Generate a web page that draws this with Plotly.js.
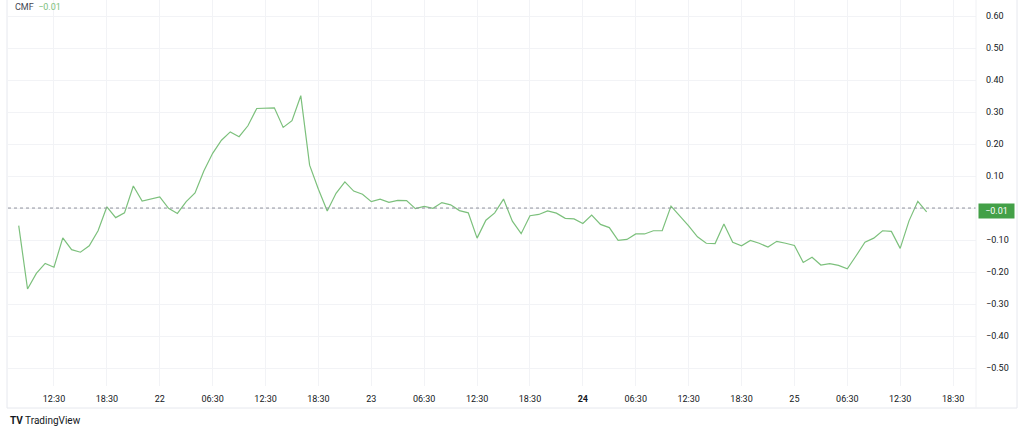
<!DOCTYPE html>
<html>
<head>
<meta charset="utf-8">
<script src="https://cdn.plot.ly/plotly-3.0.1.min.js"></script>
<style>
  html, body { margin: 0; padding: 0; background: #ffffff; }
  #chart { width: 1024px; height: 433px; }
</style>
</head>
<body>
<div id="chart"></div>
<script>
// ---- Data ----
const seriesName = "CMF";
const lastValueText = "\u22120.01";
const lastValue = -0.01;
// hourly bars, first bar at 21 08:30 (local), last at 25 15:30
const startDay = 21;
const startHour = 8;
const startMinute = 30;
const cmfValues = [
  -0.055, -0.253, -0.204, -0.173, -0.185, -0.093, -0.130, -0.138, -0.118, -0.071,
   0.004, -0.030, -0.015,  0.069,  0.022,  0.029,  0.035, -0.001, -0.017,  0.020,
   0.047,  0.116,  0.171,  0.212,  0.238,  0.223,  0.257,  0.311,  0.312,  0.313,
   0.252,  0.273,  0.351,  0.134,  0.059, -0.009,  0.046,  0.082,  0.053,  0.043,
   0.020,  0.028,  0.018,  0.024,  0.023, -0.002,  0.005, -0.001,  0.017,  0.010,
  -0.008, -0.015, -0.094, -0.038, -0.015,  0.028, -0.041, -0.080, -0.024, -0.020,
  -0.009, -0.016, -0.032, -0.034, -0.048, -0.022, -0.051, -0.061, -0.101, -0.098,
  -0.081, -0.081, -0.071, -0.071,  0.006, -0.024, -0.056, -0.090, -0.110, -0.111,
  -0.050, -0.107, -0.118, -0.101, -0.110, -0.122, -0.104, -0.110, -0.117, -0.170,
  -0.154, -0.178, -0.174, -0.179, -0.190, -0.149, -0.107, -0.094, -0.071, -0.073,
  -0.126, -0.040,  0.021, -0.012
];
const tickTimes = [
  "2024-03-21 12:30", "2024-03-21 18:30", "2024-03-22 00:30", "2024-03-22 06:30",
  "2024-03-22 12:30", "2024-03-22 18:30", "2024-03-23 00:30", "2024-03-23 06:30",
  "2024-03-23 12:30", "2024-03-23 18:30", "2024-03-24 00:30", "2024-03-24 06:30",
  "2024-03-24 12:30", "2024-03-24 18:30", "2024-03-25 00:30", "2024-03-25 06:30",
  "2024-03-25 12:30", "2024-03-25 18:30"
];
const tickLabels = [
  "12:30", "18:30", "22", "06:30", "12:30", "18:30", "23", "06:30", "12:30",
  "18:30", "<b>24</b>", "06:30", "12:30", "18:30", "25", "06:30", "12:30", "18:30"
];
const yTickStart = -0.5;

// ---- Build timestamps for the hourly bars ----
function pad(n) { return (n < 10 ? "0" : "") + n; }
const barTimes = cmfValues.map((v, i) => {
  const totalMin = startHour * 60 + startMinute + i * 60;
  const day = startDay + Math.floor(totalMin / 1440);
  const rem = totalMin % 1440;
  return "2024-03-" + pad(day) + " " + pad(Math.floor(rem / 60)) + ":" + pad(rem % 60);
});

// ---- Layout geometry ----
const W = 1024, H = 433;
const mL = 8, mR = 48, mT = 0, mB = 47;
const plotW = W - mL - mR, plotH = H - mT - mB;
const px = x => (x - mL) / plotW;
const py = y => (H - mB - y) / plotH;

const fontFam = "Roboto, 'Liberation Sans', Arial, sans-serif";
const textColor = "#131722";
const legendColor = "#434651";
const lineColor = "#7cc07c";
const labelGreen = "#43a047";
const gridColor = "#f2f3f6";
const borderColor = "#e6e8ee";

const trace = {
  x: barTimes,
  y: cmfValues,
  type: "scatter",
  mode: "lines",
  line: { color: lineColor, width: 1.2 },
  hoverinfo: "skip",
  showlegend: false
};

const layout = {
  width: W,
  height: H,
  margin: { l: mL, r: mR, t: mT, b: mB, pad: 0 },
  paper_bgcolor: "#ffffff",
  plot_bgcolor: "#ffffff",
  font: { family: fontFam, size: 9, color: textColor },
  showlegend: false,
  xaxis: {
    type: "date",
    range: ["2024-03-21 07:17", "2024-03-25 21:06"],
    tickmode: "array",
    tickvals: tickTimes,
    ticktext: tickLabels,
    showgrid: true,
    gridcolor: gridColor,
    gridwidth: 1,
    zeroline: false,
    showline: false,
    ticks: "",
    ticklabelstandoff: 6,
    tickfont: { family: fontFam, size: 9, color: textColor },
    fixedrange: true
  },
  yaxis: {
    side: "right",
    range: [-0.556, 0.65],
    tick0: yTickStart,
    dtick: 0.1,
    tickformat: ".2f",
    showgrid: true,
    gridcolor: gridColor,
    gridwidth: 1,
    zeroline: false,
    showline: false,
    ticks: "",
    ticklabelstandoff: 9,
    tickfont: { family: fontFam, size: 9, color: textColor },
    fixedrange: true
  },
  shapes: [
    // zero level dashed line
    { type: "line", xref: "paper", yref: "y", x0: 0, x1: 1, y0: 0, y1: 0,
      line: { color: "#8f939c", width: 1, dash: "3px,3px" } },
    // chart borders
    { type: "line", xref: "paper", yref: "paper", x0: px(7), x1: px(7), y0: py(0), y1: py(408),
      line: { color: borderColor, width: 1 } },
    { type: "line", xref: "paper", yref: "paper", x0: px(7), x1: px(1017), y0: py(408), y1: py(408),
      line: { color: borderColor, width: 1 } },
    { type: "line", xref: "paper", yref: "paper", x0: px(1017), x1: px(1017), y0: py(0), y1: py(408),
      line: { color: borderColor, width: 1 } },
    { type: "line", xref: "paper", yref: "paper", x0: 1, x1: 1, y0: py(0), y1: py(408),
      line: { color: "#f0f1f4", width: 1 } }
  ],
  annotations: [
    { xref: "paper", yref: "paper", x: px(13), y: py(7), xanchor: "left", yanchor: "middle",
      showarrow: false,
      text: seriesName + "&nbsp;&nbsp;<span style='color:" + lineColor + "'>" + lastValueText + "</span>",
      font: { family: fontFam, size: 9, color: legendColor } },
    { xref: "paper", yref: "y", x: px(996.5), y: lastValue, xanchor: "center", yanchor: "middle",
      showarrow: false, text: lastValueText, bgcolor: labelGreen, width: 33, height: 12,
      borderpad: 1, font: { family: fontFam, size: 9, color: "#ffffff" } },
    { xref: "paper", yref: "paper", x: px(8), y: py(420), xanchor: "left", yanchor: "middle",
      showarrow: false,
      text: "<b>TV</b> TradingView",
      font: { family: fontFam, size: 10, color: textColor } }
  ]
};

Plotly.newPlot("chart", [trace], layout, { staticPlot: true, displayModeBar: false });
</script>
</body>
</html>
